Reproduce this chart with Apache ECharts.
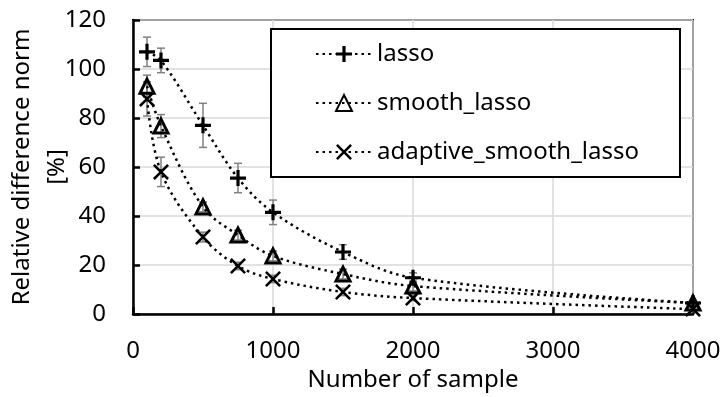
<!DOCTYPE html>
<html>
<head>
<meta charset="utf-8">
<script src="https://cdn.jsdelivr.net/npm/echarts@6/dist/echarts.min.js"></script>
<style>
    html, body { margin: 0; padding: 0; background: #fff; }
    #chart { width: 723px; height: 397px; }
</style>
</head>
<body>
<div id="chart"></div>
<script>
(function(window) {
    'use strict';
    // 数据
    var samples = [100, 200, 500, 750, 1000, 1500, 2000, 4000];
    var lasso = [107, 103.5, 77, 55.5, 41.5, 25.3, 14.8, 4.5];
    var smoothLasso = [93, 76.7, 43.7, 32.2, 23.7, 16.3, 11.4, 4.5];
    var adaptiveSmoothLasso = [87.8, 58, 31.4, 19.6, 14.3, 9, 6.5, 2];
    // 误差
    var lassoErr = [6, 5, 9, 6, 5, 3, 2, 1];
    var smoothLassoErr = [4.5, 4.7, 2, 2, 2, 2, 2, 1];
    var adaptiveErr = [7, 6, 2, 1.5, 1.5, 1.5, 1, 1];
    var seriesNames = ['lasso', 'smooth_lasso', 'adaptive_smooth_lasso'];

    var font = '"Noto Sans", sans-serif';
    var plusPath = 'path://M-1.6,-8H1.6V-1.6H8V1.6H1.6V8H-1.6V1.6H-8V-1.6H-1.6Z';
    var crossPath = 'path://M-8,-6.2L-6.2,-8L0,-1.8L6.2,-8L8,-6.2L1.8,0L8,6.2L6.2,8L0,1.8L-6.2,8L-8,6.2L-1.8,0Z';

    function pairs(ys) {
        return samples.map(function(x, i) { return [x, ys[i]]; });
    }

    function errPairs(ys, errs) {
        return samples.map(function(x, i) { return [x, ys[i], errs[i]]; });
    }

    // 误差棒
    function errorBar(data) {
        return {
            type: 'custom',
            silent: true,
            z: 1,
            renderItem: function(params, api) {
                var x = api.value(0);
                var y = api.value(1);
                var e = api.value(2);
                var top = api.coord([x, y + e]);
                var bottom = api.coord([x, y - e]);
                var style = { stroke: '#808080', lineWidth: 1.5 };
                return {
                    type: 'group',
                    children: [
                        { type: 'line', shape: { x1: top[0], y1: top[1], x2: bottom[0], y2: bottom[1] }, style: style },
                        { type: 'line', shape: { x1: top[0] - 4, y1: top[1], x2: top[0] + 4, y2: top[1] }, style: style },
                        { type: 'line', shape: { x1: bottom[0] - 4, y1: bottom[1], x2: bottom[0] + 4, y2: bottom[1] }, style: style }
                    ]
                };
            },
            data: data
        };
    }

    function lineSeries(name, data, symbol, size, itemStyle) {
        return {
            name: name,
            type: 'line',
            smooth: 0.35,
            z: 3,
            symbol: symbol,
            symbolSize: size,
            showAllSymbol: true,
            lineStyle: { color: '#000', width: 2.5, type: [2.5, 4] },
            itemStyle: itemStyle,
            data: data
        };
    }

    var chart = echarts.init(document.getElementById('chart'));
    var option = {
        animation: false,
        grid: {
            left: 133, right: 30, top: 20, bottom: 83,
            containLabel: false,
            outerBoundsMode: 'none',
            show: true, borderColor: '#000', borderWidth: 2
        },
        legend: {
            orient: 'vertical',
            left: 271,
            top: 29,
            padding: [13, 41, 13, 44],
            itemGap: 25,
            itemWidth: 56,
            itemHeight: 20,
            backgroundColor: '#fff',
            borderColor: '#000',
            borderWidth: 2,
            textStyle: { fontFamily: font, fontSize: 24, color: '#000', lineHeight: 20 },
            data: seriesNames
        },
        xAxis: {
            type: 'value',
            min: 0, max: 4000, interval: 1000,
            name: 'Number of sample',
            nameLocation: 'middle',
            nameGap: 54,
            nameMoveOverlap: false,
            nameTextStyle: { fontFamily: font, fontSize: 24, color: '#000' },
            axisLine: { lineStyle: { color: '#000', width: 2.5 } },
            axisTick: { inside: true, length: 7, lineStyle: { color: '#000', width: 2.5 } },
            axisLabel: {
                fontFamily: font, fontSize: 24, color: '#000', margin: 25,
                formatter: function(v) { return String(v); }
            },
            splitLine: { lineStyle: { color: '#d9d9d9', width: 1.5 } }
        },
        yAxis: {
            type: 'value',
            min: 0, max: 120, interval: 20,
            name: 'Relative difference norm\n[%]',
            nameLocation: 'middle',
            nameGap: 58,
            nameMoveOverlap: false,
            nameTextStyle: { fontFamily: font, fontSize: 24, color: '#000', lineHeight: 35 },
            axisLine: { lineStyle: { color: '#000', width: 2.5 } },
            axisTick: { inside: true, length: 7, lineStyle: { color: '#000', width: 2.5 } },
            axisLabel: { fontFamily: font, fontSize: 24, color: '#000', margin: 27 },
            splitLine: { lineStyle: { color: '#d9d9d9', width: 1.5 } }
        },
        series: [
            errorBar(errPairs(lasso, lassoErr)),
            errorBar(errPairs(smoothLasso, smoothLassoErr)),
            errorBar(errPairs(adaptiveSmoothLasso, adaptiveErr)),
            lineSeries(seriesNames[0], pairs(lasso), plusPath, 16, { color: '#000' }),
            lineSeries(seriesNames[1], pairs(smoothLasso), 'triangle', 14,
                { color: 'rgba(255,255,255,0)', borderColor: '#000', borderWidth: 3 }),
            lineSeries(seriesNames[2], pairs(adaptiveSmoothLasso), crossPath, 16, { color: '#000' })
        ]
    };
    chart.setOption(option);
})(window);
</script>
</body>
</html>
